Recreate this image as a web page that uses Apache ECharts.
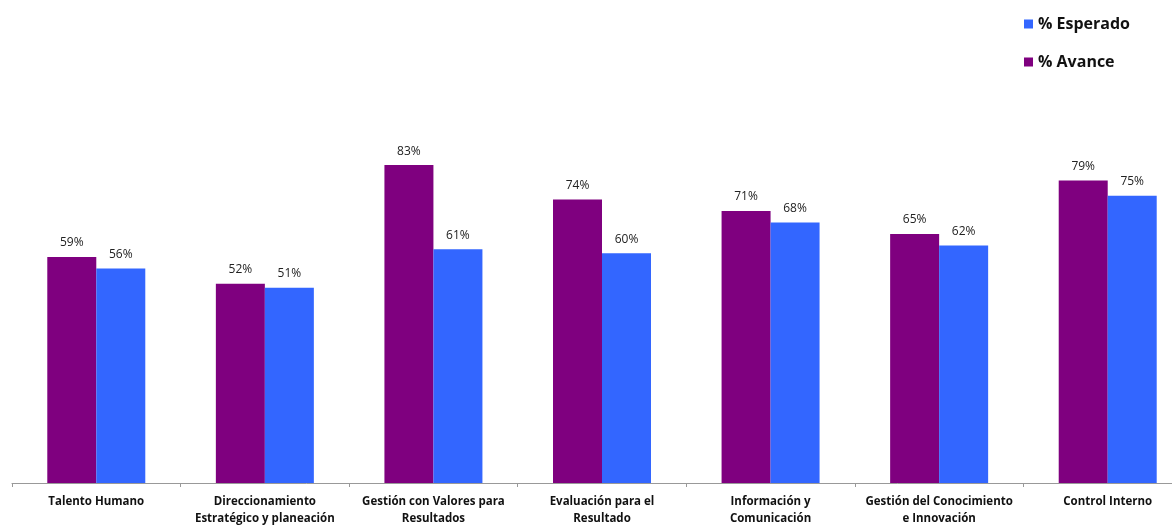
<!DOCTYPE html>
<html>
<head>
<meta charset="utf-8">
<script src="https://cdn.jsdelivr.net/npm/echarts@6/dist/echarts.min.js"></script>
<style>html,body{margin:0;padding:0;background:#fff;overflow:hidden}#c{width:1200px;height:529px}</style>
</head>
<body>
<div id="c"></div>
<script>
const categories = ['Talento Humano', 'Direccionamiento\nEstratégico y planeación', 'Gestión con Valores para\nResultados', 'Evaluación para el\nResultado', 'Información y\nComunicación', 'Gestión del Conocimiento\ne Innovación', 'Control Interno'];
const avance = [59, 52, 83, 74, 71, 65, 79];
const esperado = [56, 51, 61, 60, 68, 62, 75];

const chart = echarts.init(document.getElementById('c'));
const font = '"Open Sans", "Liberation Sans", sans-serif';
chart.setOption({
  animation: false,
  backgroundColor: '#fff',
  legend: {
    orient: 'vertical', left: 1024, top: 14, itemWidth: 9, itemHeight: 9, itemGap: 18, padding: 0,
    icon: 'rect',
    data: ['% Esperado', '% Avance'],
    textStyle: { fontFamily: font, fontWeight: 'bold', fontSize: 16, color: '#111', lineHeight: 20 }
  },
  grid: { left: 12, width: 1180, top: 100, height: 383 },
  xAxis: {
    type: 'category', data: categories,
    axisLine: { lineStyle: { color: '#999' } },
    axisTick: { show: true, length: 4, lineStyle: { color: '#999' } },
    axisLabel: { interval: 0, fontFamily: font, fontWeight: 'bold', fontSize: 11.5, color: '#111', lineHeight: 17, margin: 10 }
  },
  yAxis: { type: 'value', min: 0, max: 100, show: false, splitLine: { show: false } },
  series: [
    { name: '% Avance', type: 'bar', data: avance, barWidth: 49, barGap: '0%', itemStyle: { color: '#7f007f' },
      label: { show: true, position: 'top', formatter: '{c}%', fontFamily: font, fontSize: 12, color: '#222', distance: 8 } },
    { name: '% Esperado', type: 'bar', data: esperado, barWidth: 49, itemStyle: { color: '#3366ff' },
      label: { show: true, position: 'top', formatter: '{c}%', fontFamily: font, fontSize: 12, color: '#222', distance: 8 } }
  ]
});
</script>
</body>
</html>
